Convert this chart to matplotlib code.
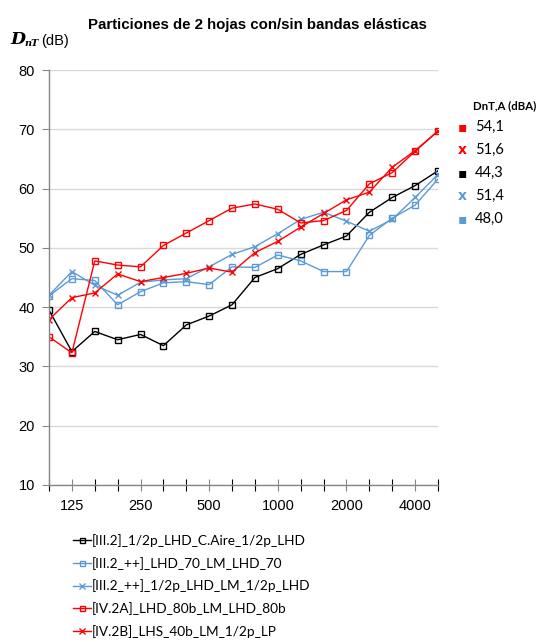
import matplotlib.pyplot as plt

# 1/3 octave bands, 100 Hz - 5000 Hz
freqs = [100, 125, 160, 200, 250, 315, 400, 500, 630, 800,
         1000, 1250, 1600, 2000, 2500, 3150, 4000, 5000]
tick_labels = ['125', '250', '500', '1000', '2000', '4000']

iii2 = [39.5, 32.5, 35.9, 34.5, 35.4, 33.5, 37.0, 38.5, 40.4, 45.0,
        46.5, 48.9, 50.5, 52.0, 56.0, 58.5, 60.5, 63.0]
iii2_lhd70 = [41.9, 44.8, 44.5, 40.4, 42.6, 44.1, 44.3, 43.8, 46.8, 46.7,
              48.8, 47.8, 46.0, 46.0, 52.1, 55.0, 57.2, 61.6]
iii2_half = [42.0, 46.0, 43.7, 42.0, 44.2, 44.6, 44.8, 46.8, 48.9, 50.2,
             52.4, 54.8, 56.0, 54.5, 52.8, 54.8, 58.5, 62.4]
iv2a = [35.0, 32.3, 47.8, 47.1, 46.8, 50.4, 52.5, 54.6, 56.7, 57.4,
        56.5, 54.2, 54.6, 56.3, 60.8, 62.7, 66.3, 69.7]
iv2b = [37.9, 41.6, 42.4, 45.6, 44.3, 45.0, 45.7, 46.6, 45.9, 49.2,
        51.1, 53.5, 55.8, 58.1, 59.4, 63.6, 66.4, 69.7]

labels = ['[III.2]_1/2p_LHD_C.Aire_1/2p_LHD',
          '[III.2_++]_LHD_70_LM_LHD_70',
          '[III.2_++]_1/2p_LHD_LM_1/2p_LHD',
          '[IV.2A]_LHD_80b_LM_LHD_80b',
          '[IV.2B]_LHS_40b_LM_1/2p_LP']
# global index DnT,A (dBA)
dnta_vals = ['54,1', '51,6', '44,3', '51,4', '48,0']

black = '#000000'
blue = '#5B9BD5'
red = '#FF0000'

fig = plt.figure(figsize=(5.36, 6.42), dpi=100)
ax = fig.add_axes([49/536, 1-485/642, 389/536, 415/642])

x = list(range(len(freqs)))
series = [(iii2, black, 's'), (iii2_lhd70, blue, 's'), (iii2_half, blue, 'x'),
          (iv2a, red, 's'), (iv2b, red, 'x')]
handles = []
for vals, col, mk in series:
    ms = 4.5 if mk == 's' else 5
    ln, = ax.plot(x, vals, color=col, lw=1.0, marker=mk, ms=ms,
                  mfc='none', mec=col, mew=1.0)
    handles.append(ln)

ax.set_xlim(0, len(freqs)-1)
ax.set_ylim(10, 80)
ax.set_yticks(range(10, 81, 10))
ax.set_xticks(x, minor=True)
ax.set_xticks([freqs.index(int(t)) for t in tick_labels])
ax.set_xticklabels(tick_labels)
ax.tick_params(axis='both', labelsize=10.5, colors='#868686', labelcolor='black')
ax.tick_params(axis='x', which='both', direction='inout', length=8, width=0.8)
ax.tick_params(axis='y', direction='out', length=5, width=0.8, pad=5)
ax.tick_params(axis='x', pad=6)
for lbl in ax.get_xticklabels() + ax.get_yticklabels():
    lbl.set_fontfamily('Liberation Sans')
ax.grid(axis='y', color='#D9D9D9', lw=1.0)
ax.set_axisbelow(True)
for s in ['top', 'right']:
    ax.spines[s].set_visible(False)
for s in ['left', 'bottom']:
    ax.spines[s].set_color('#868686')
    ax.spines[s].set_linewidth(1.0)

fig.text(257/536, 1-25/642, 'Particiones de 2 hojas con/sin bandas elásticas',
         ha='center', va='center', fontsize=10.8, fontweight='bold',
         family='Liberation Sans')

# y axis label: D_nT (dB)
fig.text(10/536, 1-44/642, 'D', fontsize=12.5, fontweight='bold', style='italic',
         family='DejaVu Serif', va='baseline')
fig.text(24/536, 1-46/642, 'nT', fontsize=7, fontweight='bold', style='italic',
         family='DejaVu Serif', va='baseline')
fig.text(41/536, 1-45/642, '(dB)', fontsize=10.5, family='Liberation Sans',
         va='baseline')

# DnT,A table at the right
fig.text(473/536, 1-106/642, 'DnT,A (dBA)', fontsize=8.2, fontweight='bold',
         family='Lato', va='center')
marks = [('▪', red), ('x', red), ('▪', black), ('x', blue), ('▪', blue)]
for i, ((sym, col), val) in enumerate(zip(marks, dnta_vals)):
    yy = 1 - (127 + 23*i)/642
    fig.text(462/536, yy, sym, color=col, fontsize=10, fontweight='bold',
             ha='center', va='center', family='DejaVu Sans')
    fig.text(475/536, yy, val, fontsize=10.5, family='Lato', va='center')

fig.legend(handles, labels, loc='upper left',
           bbox_to_anchor=(73/536, 1-534/642), frameon=False,
           prop={'family': 'Lato', 'size': 9.8}, handlelength=1.3,
           handletextpad=0.1, labelspacing=0.72, markerscale=0.8,
           borderpad=0, borderaxespad=0)

fig.savefig('out.png', dpi=100)
